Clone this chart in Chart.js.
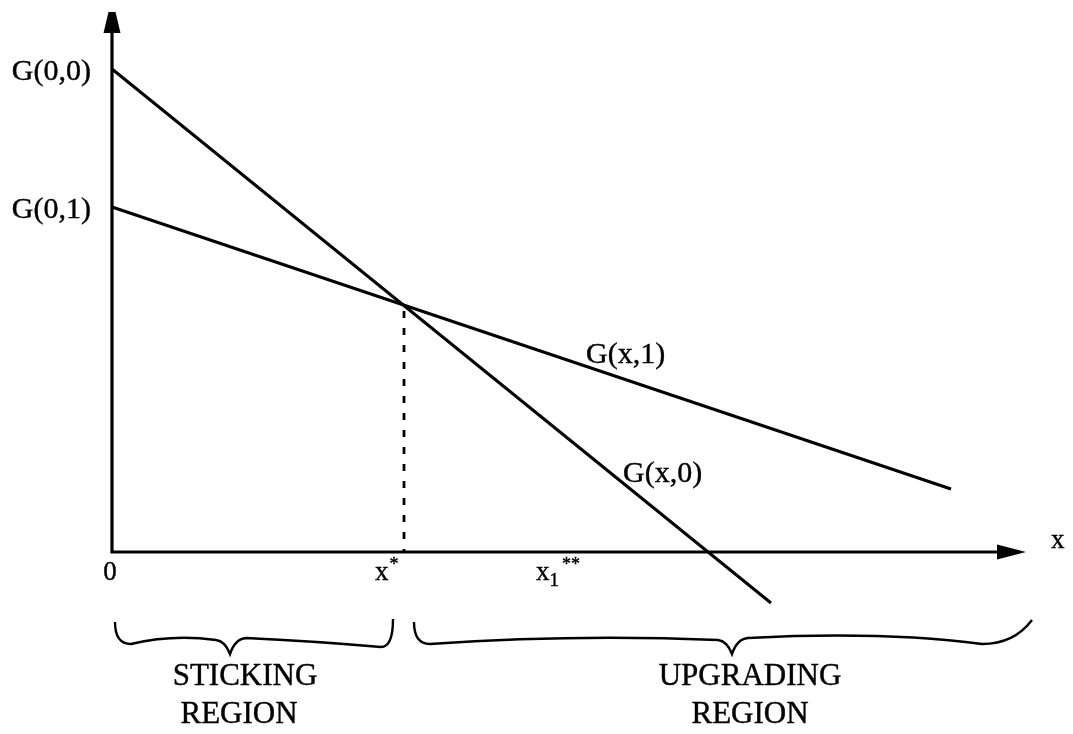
<!DOCTYPE html>
<html>
<head>
<meta charset="utf-8">
<title>Sticking and upgrading regions</title>
<script src="https://cdn.jsdelivr.net/npm/chart.js@4/dist/chart.umd.min.js"></script>
<style>
    html, body { margin: 0; padding: 0; background: #fff; }
    #wrap { width: 1073px; height: 734px; position: relative; }
</style>
</head>
<body>
<div id="wrap"><canvas id="diagram"></canvas></div>
<script>
// values (x and y in arbitrary units, origin at the axes corner)
const g0X = [0, 6.59];
const g0Y = [4.83, -0.51];
const g1X = [0, 8.39];
const g1Y = [3.45, 0.63];
const xStar = 2.92;
const yStar = 2.47;

const tickValues = [0, 2.92, 4.32];
const tickLabels = ['0', 'x*', 'x1**'];
const yTickValues = [4.83, 3.45];
const yTickLabels = ['G(0,0)', 'G(0,1)'];
const curveLabels = ['G(x,0)', 'G(x,1)'];
const regionNames = [['STICKING', 'REGION'], ['UPGRADING', 'REGION']];
const regionBounds = [[0, 2.92], [2.92, 9.2]];

const xAxisEnd = 9.14;
const yAxisEnd = 5.40;

const SERIF = '"Liberation Serif", "DejaVu Serif", serif';

class RegionDiagram {
    constructor() {
        this.chart = null;
        this.init();
    }

    init() {
        const ctx = document.getElementById('diagram').getContext('2d');
        this.chart = new Chart(ctx, {
            type: 'scatter',
            data: {
                datasets: [
                    this.lineSet(g0X, g0Y, 3, []),
                    this.lineSet(g1X, g1Y, 3, []),
                    this.lineSet([xStar, xStar], [yStar - 0.06, 0], 2.8, [7, 10])
                ]
            },
            options: {
                responsive: true,
                maintainAspectRatio: false,
                animation: false,
                layout: { padding: 0 },
                plugins: {
                    legend: { display: false },
                    tooltip: { enabled: false }
                },
                scales: {
                    x: { type: 'linear', display: false, min: -1.12, max: 9.61 },
                    y: { type: 'linear', display: false, min: -1.82, max: 5.52 }
                }
            },
            plugins: [{
                id: 'decorations',
                afterDatasetsDraw: (chart) => this.drawDecorations(chart)
            }]
        });
    }

    lineSet(xs, ys, width, dash) {
        return {
            data: xs.map((x, i) => ({ x: x, y: ys[i] })),
            showLine: true,
            borderColor: '#000',
            borderWidth: width,
            borderDash: dash,
            pointRadius: 0,
            tension: 0
        };
    }

    // scanned text looks a little heavier than the plain font
    text(ctx, t, x, y) {
        ctx.fillText(t, x, y);
        ctx.strokeText(t, x, y);
    }

    drawDecorations(chart) {
        const ctx = chart.ctx;
        const sx = chart.scales.x;
        const sy = chart.scales.y;
        const px = (v) => sx.getPixelForValue(v);
        const py = (v) => sy.getPixelForValue(v);
        const ox = px(0), oy = py(0);

        ctx.save();
        ctx.fillStyle = '#000';
        ctx.strokeStyle = '#000';

        // axes
        ctx.lineWidth = 3.2;
        ctx.beginPath();
        ctx.moveTo(ox, oy);
        ctx.lineTo(px(xAxisEnd) - 20, oy);
        ctx.moveTo(ox, oy + 1.5);
        ctx.lineTo(ox, py(yAxisEnd) + 15);
        ctx.stroke();

        // arrow heads
        const xt = px(xAxisEnd);
        ctx.beginPath();
        ctx.moveTo(xt, oy);
        ctx.lineTo(xt - 29, oy - 7.5);
        ctx.lineTo(xt - 29, oy + 7.5);
        ctx.closePath();
        ctx.fill();
        const yt = py(yAxisEnd);
        ctx.beginPath();
        ctx.moveTo(ox - 3.5, yt);
        ctx.lineTo(ox + 3.5, yt);
        ctx.lineTo(ox + 8.5, yt + 21);
        ctx.lineTo(ox - 8.5, yt + 21);
        ctx.closePath();
        ctx.fill();

        ctx.lineWidth = 0.4;

        // y tick labels
        ctx.font = '30px ' + SERIF;
        ctx.textAlign = 'right';
        ctx.textBaseline = 'alphabetic';
        yTickLabels.forEach((t, i) => this.text(ctx, t, ox - 21, py(yTickValues[i]) + 11));

        // curve labels
        ctx.textAlign = 'left';
        this.text(ctx, curveLabels[0], px(5.11), py(0.70));
        this.text(ctx, curveLabels[1], px(4.74), py(1.89));

        // axis name
        ctx.font = '27px ' + SERIF;
        this.text(ctx, 'x', xt + 25, oy - 4);

        // x tick labels
        const base = oy + 28;
        tickLabels.forEach((t, i) => {
            const x = px(tickValues[i]);
            ctx.font = '27px ' + SERIF;
            if (t === '0') {
                ctx.textAlign = 'center';
                this.text(ctx, '0', x - 2, base);
                return;
            }
            ctx.textAlign = 'left';
            const m = t.match(/^x(\d*)(\**)$/);
            let left = i === 1 ? x - 29 : x - 8;
            this.text(ctx, 'x', left, base);
            left += ctx.measureText('x').width;
            let supLeft = left + 1;
            if (m[1]) {
                ctx.font = '19px ' + SERIF;
                this.text(ctx, m[1], left, base + 6);
                supLeft = left + ctx.measureText(m[1]).width + 3;
            }
            ctx.font = '18px ' + SERIF;
            this.text(ctx, m[2], supLeft, base - 10);
        });

        // braces and region names
        regionBounds.forEach((b, i) => {
            const l = px(b[0]) + (i === 0 ? 3 : 10);
            const r = px(b[1]) - (i === 0 ? 11 : 0);
            const tip = i === 0 ? l + 115 : l + 318;
            ctx.lineWidth = 2.4;
            this.drawBrace(ctx, l, tip, r, oy + 70, oy + 91, oy + 102, i === 1);

            ctx.lineWidth = 0.4;
            ctx.font = '31px ' + SERIF;
            ctx.textAlign = 'center';
            const cx = i === 0 ? tip + 15 : tip + 18;
            this.text(ctx, regionNames[i][0], cx, oy + 133);
            this.text(ctx, regionNames[i][1], cx - (i === 0 ? 6 : 0), oy + 171);
        });

        ctx.restore();
    }

    drawBrace(ctx, l, tip, r, top, band, tipY, slantEnd) {
        ctx.beginPath();
        ctx.moveTo(l, top);
        ctx.quadraticCurveTo(l, band + 1, l + 16, band + 1);
        ctx.quadraticCurveTo((l + tip) / 2, band - 9, tip - 14, band - 3);
        ctx.quadraticCurveTo(tip - 5, band - 2, tip, tipY);
        ctx.quadraticCurveTo(tip + 5, band - 4, tip + 16, band - 5);
        if (slantEnd) {
            ctx.quadraticCurveTo((tip + r) / 2, band - 12, r - 50, band + 1);
            ctx.quadraticCurveTo(r - 18, band + 1, r, top - 2);
        } else {
            ctx.quadraticCurveTo((tip + r) / 2, band - 2, r - 12, band + 4);
            ctx.quadraticCurveTo(r, band + 4, r, top - 3);
        }
        ctx.stroke();
    }
}

document.addEventListener('DOMContentLoaded', () => new RegionDiagram());
</script>
</body>
</html>
